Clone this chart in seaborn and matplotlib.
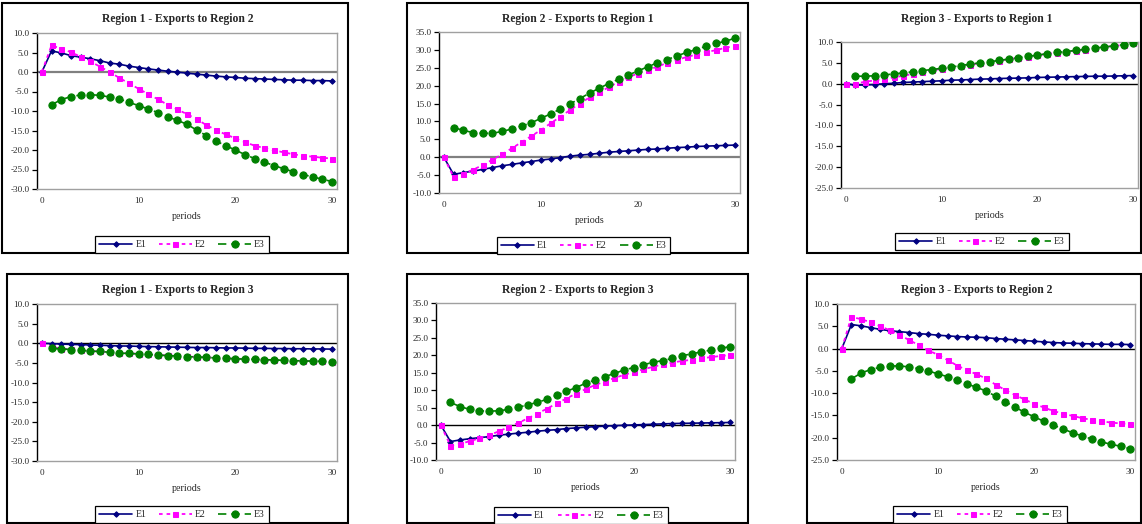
import numpy as np
import pandas as pd
import matplotlib
matplotlib.use("Agg")
import matplotlib.pyplot as plt
import seaborn as sns
from matplotlib.patches import Rectangle
from matplotlib.ticker import FuncFormatter, MultipleLocator

# ---------------- data ----------------
periods = list(range(31))          # E1, E2 start at period 0
periods_e3 = list(range(1, 31))    # E3 starts at period 1
series_names = ["E1", "E2", "E3"]

titles = ["Region 1 - Exports to Region 2", "Region 2 - Exports to Region 1",
          "Region 3 - Exports to Region 1", "Region 1 - Exports to Region 3",
          "Region 2 - Exports to Region 3", "Region 3 - Exports to Region 2"]
y_limits = [(-30, 10), (-10, 35), (-25, 10), (-30, 10), (-10, 35), (-25, 10)]
x_tick_values = [0, 10, 20, 30]
x_label = "periods"

r1_r2_e1 = [0, 5.4, 4.9, 4.2, 3.8, 3.4, 2.9, 2.3, 2.0, 1.5, 1.15, 0.8, 0.5, 0.2, -0.05, -0.3,
            -0.55, -0.8, -1.05, -1.25, -1.4, -1.6, -1.7, -1.8, -1.9, -2.0, -2.1, -2.1, -2.2, -2.2, -2.3]
r1_r2_e2 = [0, 6.8, 6.0, 5.1, 3.9, 2.7, 1.4, 0.0, -1.5, -2.9, -4.3, -5.7, -7.0, -8.4, -9.6, -10.8,
            -12.1, -13.6, -14.9, -16.0, -17.0, -18.0, -18.9, -19.5, -20.1, -20.6, -21.1, -21.5, -21.7, -22.0, -22.2]
r1_r2_e3 = [-8.4, -7.1, -6.3, -5.9, -5.8, -6.0, -6.4, -6.9, -7.8, -8.6, -9.5, -10.4, -11.5, -12.4, -13.4,
            -14.9, -16.3, -17.7, -18.9, -20.0, -21.2, -22.2, -23.1, -24.0, -24.8, -25.6, -26.3, -26.9, -27.5, -28.1]

r2_r1_e1 = [0, -4.8, -4.3, -3.9, -3.4, -2.9, -2.4, -2.0, -1.6, -1.2, -0.8, -0.5, -0.1, 0.3, 0.6, 0.8,
            1.1, 1.4, 1.6, 1.8, 2.0, 2.2, 2.3, 2.5, 2.7, 2.8, 3.0, 3.1, 3.2, 3.3, 3.4]
r2_r1_e2 = [0, -5.5, -4.6, -3.5, -2.2, -0.7, 0.8, 2.5, 4.2, 5.9, 7.6, 9.5, 11.3, 13.2, 15.0, 16.7,
            18.1, 19.6, 21.1, 22.4, 23.4, 24.4, 25.3, 26.4, 27.2, 28.0, 28.7, 29.4, 29.9, 30.6, 31.1]
r2_r1_e3 = [8.3, 7.5, 6.9, 6.7, 6.7, 7.2, 7.9, 8.7, 9.6, 10.9, 12.1, 13.5, 14.9, 16.4, 17.9,
            19.3, 20.6, 21.8, 23.0, 24.1, 25.3, 26.4, 27.3, 28.3, 29.3, 30.1, 31.0, 31.8, 32.4, 33.3]

r3_r1_e1 = [0, -0.35, -0.3, -0.2, 0.0, 0.1, 0.3, 0.4, 0.5, 0.6, 0.7, 0.85, 0.9, 1.0, 1.1, 1.15,
            1.25, 1.3, 1.35, 1.4, 1.5, 1.55, 1.6, 1.65, 1.7, 1.75, 1.8, 1.8, 1.85, 1.9, 1.95]
r3_r1_e2 = [0, 0.05, 0.45, 0.8, 1.15, 1.5, 1.9, 2.35, 2.8, 3.2, 3.55, 3.9, 4.25, 4.6, 4.9, 5.2,
            5.55, 5.85, 6.2, 6.5, 6.8, 7.15, 7.45, 7.65, 7.95, 8.2, 8.5, 8.75, 9.05, 9.3, 9.65]
r3_r1_e3 = [1.8, 1.8, 1.9, 2.1, 2.35, 2.6, 2.85, 3.15, 3.4, 3.7, 4.0, 4.35, 4.7, 5.0, 5.25,
            5.6, 5.9, 6.25, 6.55, 6.85, 7.2, 7.5, 7.7, 8.0, 8.25, 8.55, 8.8, 9.1, 9.35, 9.7]

r1_r3_e1 = [0, -0.1, -0.2, -0.3, -0.35, -0.45, -0.5, -0.6, -0.7, -0.7, -0.8, -0.85, -0.9, -0.95, -1.0, -1.05,
            -1.1, -1.1, -1.15, -1.2, -1.2, -1.25, -1.3, -1.3, -1.35, -1.35, -1.4, -1.4, -1.45, -1.45, -1.5]
r1_r3_e2 = [0, -0.9, -1.35, -1.55, -1.75, -1.95, -2.1, -2.3, -2.45, -2.6, -2.7, -2.85, -3.0, -3.1, -3.25, -3.35,
            -3.5, -3.6, -3.7, -3.85, -3.95, -4.0, -4.1, -4.2, -4.25, -4.35, -4.4, -4.5, -4.55, -4.6, -4.7]
r1_r3_e3 = [-1.3, -1.45, -1.6, -1.8, -2.0, -2.1, -2.3, -2.5, -2.6, -2.7, -2.85, -3.0, -3.15, -3.25, -3.4,
            -3.5, -3.6, -3.75, -3.85, -3.95, -4.05, -4.1, -4.2, -4.25, -4.35, -4.45, -4.5, -4.55, -4.6, -4.7]

r2_r3_e1 = [0, -4.7, -4.25, -3.9, -3.6, -3.3, -2.9, -2.6, -2.3, -2.05, -1.75, -1.5, -1.3, -1.0, -0.8, -0.6,
            -0.45, -0.3, -0.15, -0.05, 0.05, 0.15, 0.25, 0.35, 0.45, 0.5, 0.55, 0.6, 0.65, 0.7, 0.75]
r2_r3_e2 = [0, -5.9, -5.4, -4.6, -3.8, -2.9, -1.8, -0.6, 0.6, 1.9, 3.3, 4.7, 6.2, 7.6, 9.0, 10.3,
            11.5, 12.5, 13.5, 14.4, 15.2, 16.0, 16.7, 17.4, 17.9, 18.4, 18.7, 19.1, 19.5, 19.8, 20.1]
r2_r3_e3 = [6.5, 5.3, 4.5, 4.1, 4.0, 4.1, 4.5, 5.1, 5.8, 6.5, 7.4, 8.5, 9.7, 10.7, 12.0,
            12.9, 13.9, 14.8, 15.8, 16.5, 17.3, 18.0, 18.5, 19.1, 19.9, 20.4, 21.0, 21.5, 22.0, 22.5]

r3_r2_e1 = [0, 5.4, 5.1, 4.7, 4.3, 4.0, 3.8, 3.6, 3.35, 3.2, 3.0, 2.85, 2.7, 2.6, 2.55, 2.45,
            2.25, 2.1, 1.95, 1.8, 1.65, 1.5, 1.35, 1.25, 1.2, 1.1, 1.05, 1.0, 0.95, 0.95, 0.9]
r3_r2_e2 = [0, 7.1, 6.6, 5.9, 5.0, 4.1, 3.1, 1.9, 0.8, -0.4, -1.4, -2.6, -3.8, -4.85, -5.75, -6.7,
            -8.1, -9.3, -10.4, -11.4, -12.4, -13.2, -14.0, -14.6, -15.1, -15.6, -16.0, -16.3, -16.6, -16.8, -16.9]
r3_r2_e3 = [-6.8, -5.5, -4.7, -4.2, -3.9, -3.9, -4.1, -4.5, -5.0, -5.7, -6.3, -7.1, -7.9, -8.7, -9.5,
            -10.7, -11.9, -13.1, -14.3, -15.3, -16.3, -17.2, -18.0, -18.9, -19.6, -20.3, -20.9, -21.5, -21.9, -22.5]

panel_data = [(r1_r2_e1, r1_r2_e2, r1_r2_e3), (r2_r1_e1, r2_r1_e2, r2_r1_e3),
              (r3_r1_e1, r3_r1_e2, r3_r1_e3), (r1_r3_e1, r1_r3_e2, r1_r3_e3),
              (r2_r3_e1, r2_r3_e2, r2_r3_e3), (r3_r2_e1, r3_r2_e2, r3_r2_e3)]

# ---------------- style ----------------
sns.set_style("white")
plt.rcParams["font.family"] = ["Liberation Serif", "DejaVu Serif"]
plt.rcParams["axes.unicode_minus"] = False

W, H = 1142, 524
fig = plt.figure(figsize=(W / 100, H / 100), dpi=100)
fig.patch.set_facecolor("white")

styles = {
    "E1": dict(color="#000080", marker="D", markersize=2.8, linestyle="-", linewidth=1.2),
    "E2": dict(color="#FF00FF", marker="s", markersize=3.6, linestyle=(0, (2, 2.2)), linewidth=1.3),
    "E3": dict(color="#008000", marker="o", markersize=5.2, linestyle=(0, (5, 3)), linewidth=1.2),
}

# pixel layouts: frame (x0, y0, x1, y1), axes (left, top, right, bottom),
# title center, legend center, zero-line style
frames = [(2, 3, 348, 253), (407, 3, 748, 253), (807, 3, 1141, 253),
          (7, 274, 348, 523), (407, 274, 748, 523), (807, 274, 1141, 523)]
axes_px = [(37, 33, 337, 189), (439, 32, 740, 193), (841, 42, 1138, 188),
           (37, 304, 337, 461), (436, 303, 735, 460), (837, 304, 1135, 460)]
title_c = [(178, 19), (578, 19), (977, 19), (178, 290), (578, 290), (977, 290)]
legend_c = [(182, 244.5), (583.5, 245.5), (982, 241.5), (182, 514.5), (581, 515.5), (980, 514.5)]
zero_style = [("#808080", 1.6), ("#808080", 1.6), ("black", 1.0),
              ("black", 1.0), ("black", 1.0), ("black", 1.0)]

fmt = FuncFormatter(lambda v, p: f"{v:.1f}")

for i in range(6):
    x0, y0, x1, y1 = frames[i]
    fig.add_artist(Rectangle((x0 / W, 1 - y1 / H), (x1 - x0) / W, (y1 - y0) / H,
                             transform=fig.transFigure, fill=False,
                             edgecolor="black", linewidth=1.5))
    l, t, r, b = axes_px[i]
    ax = fig.add_axes([l / W, 1 - b / H, (r - l) / W, (b - t) / H])
    ax.set_facecolor("white")

    e1, e2, e3 = panel_data[i]
    zc, zw = zero_style[i]
    ax.axhline(0, color=zc, linewidth=zw, zorder=1)

    frames_df = {
        "E1": pd.DataFrame({"period": periods, "value": e1}),
        "E2": pd.DataFrame({"period": periods, "value": e2}),
        "E3": pd.DataFrame({"period": periods_e3, "value": e3}),
    }
    for name in series_names:
        st = styles[name]
        sns.lineplot(data=frames_df[name], x="period", y="value", ax=ax,
                     color=st["color"], marker=st["marker"], markersize=st["markersize"],
                     markeredgecolor=st["color"], markerfacecolor=st["color"],
                     linestyle=st["linestyle"], linewidth=st["linewidth"],
                     errorbar=None, legend=False, label=name, zorder=3)

    ax.set_xlim(-0.5, 30.5)
    ax.set_ylim(*y_limits[i])
    ax.yaxis.set_major_locator(MultipleLocator(5))
    ax.yaxis.set_major_formatter(fmt)
    ax.set_xticks(x_tick_values)
    ax.set_xticklabels([str(v) for v in x_tick_values])
    ax.tick_params(axis="x", length=0, pad=6, labelsize=6.6)
    ax.tick_params(axis="y", length=3.5, width=0.9, direction="out", pad=2,
                   labelsize=6.6, left=True, color="black")
    ax.set_ylabel("")
    ax.set_xlabel(x_label, fontsize=7.2, labelpad=5)
    for side in ["top", "right", "bottom"]:
        ax.spines[side].set_color("#a0a0a0")
        ax.spines[side].set_linewidth(1.0)
    ax.spines["left"].set_color("black")
    ax.spines["left"].set_linewidth(1.0)
    ax.grid(False)

    tx, ty = title_c[i]
    fig.text(tx / W, 1 - ty / H, titles[i], ha="center", va="center",
             fontsize=8.4, fontweight="bold")

    handles, labels = ax.get_legend_handles_labels()
    lx, ly = legend_c[i]
    leg = fig.legend(handles, labels, loc="center", bbox_to_anchor=(lx / W, 1 - ly / H),
                     ncol=3, frameon=True, fancybox=False, edgecolor="black",
                     framealpha=1, fontsize=7, handlelength=3.4, handletextpad=0.3,
                     columnspacing=1.3, borderpad=0.4)
    leg.get_frame().set_linewidth(0.9)

fig.savefig("out.png", dpi=100, facecolor="white")
